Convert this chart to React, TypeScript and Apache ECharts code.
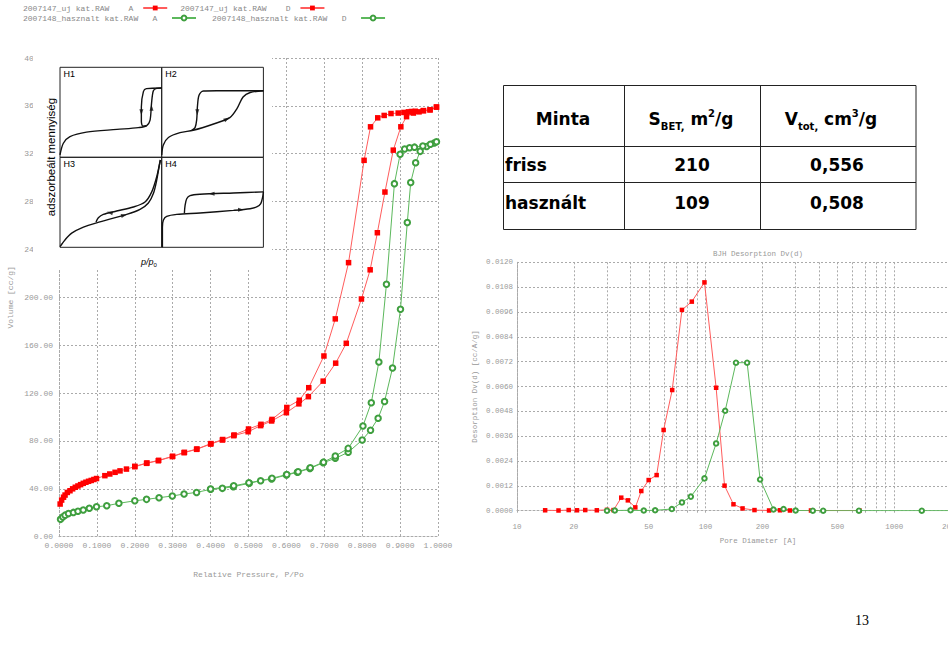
import React, { useEffect, useRef } from 'react';
import * as echarts from 'echarts';

// ---------- Left chart: N2 isotherms (Volume [cc/g] vs P/Po) ----------
const freshAdsP = [0.003, 0.007, 0.012, 0.016, 0.022, 0.029, 0.036, 0.043, 0.05, 0.057, 0.064, 0.071, 0.078, 0.085, 0.092, 0.099, 0.121, 0.134, 0.148, 0.161, 0.178, 0.2, 0.231, 0.262, 0.299, 0.33, 0.363, 0.4, 0.431, 0.461, 0.499, 0.532, 0.561, 0.6, 0.633, 0.658, 0.697, 0.73, 0.758, 0.798, 0.821, 0.84, 0.86, 0.882, 0.902, 0.917, 0.935, 0.95, 0.962, 0.979, 0.996];
const freshAdsV = [27.3, 30.6, 33.0, 34.8, 37.0, 38.4, 40.0, 41.3, 42.4, 43.5, 44.6, 45.5, 46.3, 47.0, 47.8, 48.6, 51.0, 52.4, 53.8, 55.0, 56.5, 58.5, 61.3, 63.5, 66.9, 70.2, 73.0, 77.4, 80.8, 84.4, 87.7, 92.8, 96.7, 103.6, 111.0, 117.0, 130.0, 145.0, 161.6, 198.6, 223.0, 254.0, 288.0, 323.0, 342.5, 351.0, 354.0, 355.0, 356.0, 356.7, 359.0];
const freshDesP = [0.2, 0.232, 0.263, 0.3, 0.331, 0.364, 0.401, 0.432, 0.462, 0.5, 0.533, 0.562, 0.601, 0.634, 0.659, 0.699, 0.729, 0.764, 0.805, 0.822, 0.841, 0.858, 0.876, 0.895, 0.91, 0.922, 0.93, 0.94, 0.961, 0.979, 0.996];
const freshDesV = [58.8, 61.6, 63.8, 67.2, 70.5, 73.3, 77.8, 81.2, 85.0, 90.0, 93.9, 98.0, 108.0, 114.0, 124.5, 151.0, 182.0, 229.0, 314.5, 342.5, 350.0, 352.0, 353.6, 354.0, 354.5, 355.0, 355.3, 355.5, 356.0, 356.7, 359.0];
const usedAdsP = [0.004, 0.01, 0.016, 0.025, 0.038, 0.05, 0.064, 0.08, 0.099, 0.126, 0.158, 0.2, 0.231, 0.264, 0.299, 0.33, 0.363, 0.4, 0.431, 0.46, 0.502, 0.532, 0.561, 0.6, 0.629, 0.662, 0.697, 0.729, 0.763, 0.8, 0.822, 0.842, 0.859, 0.88, 0.901, 0.919, 0.928, 0.941, 0.953, 0.97, 0.99];
const usedAdsV = [14.5, 16.5, 18.0, 19.3, 20.3, 21.3, 22.3, 23.8, 25.0, 25.9, 27.9, 30.0, 31.2, 32.6, 34.0, 35.7, 37.0, 39.6, 40.4, 41.8, 44.6, 46.8, 48.2, 51.5, 53.8, 57.0, 61.8, 65.5, 70.5, 80.8, 89.0, 99.0, 113.0, 141.0, 190.0, 262.5, 296.0, 312.5, 322.0, 326.0, 329.0];
const usedDesP = [0.4, 0.461, 0.501, 0.562, 0.601, 0.631, 0.663, 0.698, 0.729, 0.763, 0.802, 0.824, 0.844, 0.864, 0.885, 0.9, 0.912, 0.925, 0.938, 0.96, 0.98, 0.996];
const usedDesV = [39.8, 42.5, 45.0, 48.8, 52.0, 54.3, 57.6, 62.3, 67.4, 73.8, 92.5, 112.0, 146.0, 211.0, 295.0, 319.5, 324.0, 325.0, 325.5, 326.5, 328.0, 330.0];

const isoNames = [
  '2007147_uj kat.RAW    A',
  '2007147_uj kat.RAW    D',
  '2007148_hasznalt kat.RAW   A',
  '2007148_hasznalt kat.RAW   D',
];

// ---------- Right chart: BJH desorption Dv(d) ----------
const freshPoreD = [14.1, 16.6, 18.8, 20.8, 23.0, 26.5, 30.0, 32.5, 35.7, 38.7, 42.4, 45.6, 49.9, 55.0, 59.9, 66.5, 74.9, 84.5, 98.6, 113.7, 126.0, 140.5, 157.0, 181.6, 217.0, 248.0, 280.0, 362.0, 654.0];
const freshDv = [0.00002, 0.00001, 0.00003, 0.00002, 0.00003, 0.00002, 0.00004, 0.00003, 0.00063, 0.0005, 0.00016, 0.00095, 0.00148, 0.00172, 0.0039, 0.00583, 0.0097, 0.0101, 0.01103, 0.00594, 0.00121, 0.00031, 0.00011, 0.00003, 0.00001, 0.00002, 0.00001, 0.00001, 0.00001];
const usedPoreD = [30.0, 33.0, 40.0, 47.0, 54.0, 66.2, 74.9, 83.5, 98.6, 113.7, 127.0, 144.9, 166.0, 194.5, 229.0, 259.0, 300.0, 370.0, 420.0, 650.0, 1400.0, 2500.0];
const usedDv = [0.0, 0.00001, 0.00002, 0.00001, 0.00002, 0.00008, 0.0004, 0.00068, 0.00156, 0.00325, 0.00483, 0.00715, 0.00715, 0.00151, 0.00006, 0.00008, 0.00001, 0.0, 0.0, 0.0, 0.0, 0.0];
const poreTickValues = [10, 20, 30, 40, 50, 60, 70, 80, 90, 100, 200, 300, 400, 500, 600, 700, 800, 900, 1000, 2000];
const poreLabelValues = [10, 20, 50, 100, 200, 500, 1000, 2000];

// ---------- Inset: hysteresis types H1-H4 (normalised) ----------
const h1Ads = [[0, 0.026], [0.033, 0.156], [0.098, 0.23], [0.26, 0.28], [0.56, 0.31], [0.77, 0.33], [0.85, 0.35], [0.885, 0.41], [0.9, 0.6], [0.918, 0.74], [0.95, 0.765], [1, 0.77]];
const h1Des = [[1, 0.77], [0.85, 0.763], [0.82, 0.73], [0.8, 0.56], [0.8, 0.4], [0.815, 0.345], [0.85, 0.35]];
const h1Arrows = [[0.8, 0.5, 180], [0.9, 0.55, 0]];
const h2Ads = [[0, 0.026], [0.016, 0.137], [0.066, 0.22], [0.18, 0.274], [0.31, 0.3], [0.51, 0.37], [0.67, 0.44], [0.74, 0.54], [0.8, 0.67], [0.87, 0.72], [1, 0.74]];
const h2Des = [[1, 0.74], [0.54, 0.74], [0.41, 0.737], [0.367, 0.69], [0.351, 0.56], [0.344, 0.415], [0.328, 0.33], [0.295, 0.3]];
const h2Arrows = [[0.35, 0.5, 180], [0.64, 0.425, -60]];
const h3Ads = [[0, 0.007], [0.049, 0.082], [0.115, 0.157], [0.23, 0.224], [0.36, 0.272], [0.656, 0.366], [0.787, 0.422], [0.869, 0.493], [0.918, 0.597], [0.951, 0.746], [0.977, 0.914], [0.987, 0.97]];
const h3Des = [[0.987, 0.97], [0.951, 0.784], [0.902, 0.616], [0.836, 0.504], [0.721, 0.448], [0.557, 0.403], [0.426, 0.366], [0.377, 0.328], [0.354, 0.28]];
const h3Arrows = [[0.49, 0.385, 75], [0.63, 0.357, -75]];
const h4Ads = [[0.007, 0], [0.007, 0.224], [0.016, 0.3], [0.049, 0.343], [0.148, 0.366], [0.377, 0.381], [0.705, 0.41], [0.869, 0.429], [0.934, 0.448], [0.974, 0.485], [0.993, 0.56], [1, 0.616]];
const h4Des = [[1, 0.616], [0.705, 0.604], [0.377, 0.59], [0.279, 0.575], [0.246, 0.54], [0.23, 0.466], [0.223, 0.38]];
const h4Arrows = [[0.49, 0.595, 90], [0.78, 0.418, -90]];
const insetLabels = ['H1', 'H2', 'H3', 'H4'];

// ---------- Table ----------
const tableRows = ['friss', 'használt'];
const sbetValues = ['210', '109'];
const vtotValues = ['0,556', '0,508'];

const MONO = 'Liberation Mono';
const GRAY = '#999';
const RED = '#ff0000';
const RED_LINE = '#ff5c5c';
const GREEN = '#3f9f3f';
const GREEN_LINE = '#5cb85c';

const zip = (a: number[], b: number[]) => a.map((v, i) => [v, b[i]]);
const dotted = { color: '#aaa', type: [2, 2] as number[], width: 1 };

function buildOption(): any {
  const insetPanels = [
    { ads: h1Ads, des: h1Des, arrows: h1Arrows },
    { ads: h2Ads, des: h2Des, arrows: h2Arrows },
    { ads: h3Ads, des: h3Des, arrows: h3Arrows },
    { ads: h4Ads, des: h4Des, arrows: h4Arrows },
  ];
  const insetLeft = [60, 161.7, 60, 161.7];
  const insetTop = [67.3, 67.3, 157.3, 157.3];

  const grid: any[] = [
    { left: 59, top: 58, right: 510, bottom: 127.3, outerBoundsMode: 'none' },
  ];
  const xAxis: any[] = [
    {
      type: 'value', gridIndex: 0, min: 0, max: 1, interval: 0.1,
      axisLine: { lineStyle: dotted }, axisTick: { show: false },
      splitLine: { show: true, lineStyle: dotted },
      axisLabel: { formatter: (v: number) => v.toFixed(4), fontFamily: MONO, fontSize: 8, color: GRAY, margin: 5 },
      name: 'Relative Pressure, P/Po', nameLocation: 'middle', nameGap: 34,
      nameTextStyle: { fontFamily: MONO, fontSize: 8, color: GRAY },
    },
  ];
  const yAxis: any[] = [
    {
      type: 'value', gridIndex: 0, min: 0, max: 400, interval: 40,
      axisLine: { show: true, lineStyle: dotted }, axisTick: { show: false },
      splitLine: { show: true, lineStyle: dotted },
      axisLabel: { formatter: (v: number) => v.toFixed(2), fontFamily: MONO, fontSize: 8, color: GRAY, margin: 6 },
      name: 'Volume [cc/g]', nameLocation: 'middle', nameGap: 45,
      nameTextStyle: { fontFamily: MONO, fontSize: 8, color: GRAY },
    },
  ];
  const series: any[] = [
    {
      name: isoNames[0], type: 'line', xAxisIndex: 0, yAxisIndex: 0, data: zip(freshAdsP, freshAdsV),
      symbol: 'rect', symbolSize: 5.5, itemStyle: { color: RED }, lineStyle: { color: RED_LINE, width: 1 },
    },
    {
      name: isoNames[1], type: 'line', xAxisIndex: 0, yAxisIndex: 0, data: zip(freshDesP, freshDesV),
      symbol: 'rect', symbolSize: 5.5, itemStyle: { color: RED }, lineStyle: { color: RED_LINE, width: 1 },
    },
    {
      name: isoNames[2], type: 'line', xAxisIndex: 0, yAxisIndex: 0, data: zip(usedAdsP, usedAdsV),
      symbol: 'emptyCircle', symbolSize: 5.5, itemStyle: { color: GREEN, borderWidth: 1 }, lineStyle: { color: GREEN_LINE, width: 1 },
    },
    {
      name: isoNames[3], type: 'line', xAxisIndex: 0, yAxisIndex: 0, data: zip(usedDesP, usedDesV),
      symbol: 'emptyCircle', symbolSize: 5.5, itemStyle: { color: GREEN, borderWidth: 1 }, lineStyle: { color: GREEN_LINE, width: 1 },
    },
  ];

  insetPanels.forEach((p, i) => {
    const gi = i + 1;
    grid.push({ left: insetLeft[i], top: insetTop[i], width: 101.7, height: 90, show: true, borderColor: '#222', borderWidth: 1, backgroundColor: 'transparent', z: 20, outerBoundsMode: 'none' });
    xAxis.push({ type: 'value', gridIndex: gi, min: 0, max: 1, show: false });
    yAxis.push({ type: 'value', gridIndex: gi, min: 0, max: 1, show: false });
    series.push({ type: 'line', xAxisIndex: gi, yAxisIndex: gi, data: p.ads, smooth: 0.3, symbol: 'none', lineStyle: { color: '#111', width: 1.4 }, z: 20, silent: true });
    series.push({ type: 'line', xAxisIndex: gi, yAxisIndex: gi, data: p.des, smooth: 0.3, symbol: 'none', lineStyle: { color: '#111', width: 1.4 }, z: 20, silent: true });
    series.push({
      type: 'scatter', xAxisIndex: gi, yAxisIndex: gi, symbol: 'triangle', symbolSize: [4, 6],
      data: p.arrows.map((a) => ({ value: [a[0], a[1]], symbolRotate: a[2] })),
      itemStyle: { color: '#111' }, z: 21, silent: true,
    });
  });

  // right chart (its right edge runs past the page edge, as in the reference)
  grid.push({ left: 517, top: 262.3, width: 434, height: 248.4, outerBoundsMode: 'none', containLabel: false });
  xAxis.push({
    type: 'value', gridIndex: 5, min: 1, max: Math.log10(2000),
    axisLine: { lineStyle: dotted },
    axisTick: { show: true, customValues: poreTickValues.map((v) => Math.log10(v)), length: 2, lineStyle: { color: '#aaa' } },
    splitLine: { show: true, lineStyle: dotted },
    axisLabel: {
      customValues: poreLabelValues.map((v) => Math.log10(v)),
      formatter: (v: number) => String(Math.round(Math.pow(10, v))),
      fontFamily: MONO, fontSize: 7.5, color: GRAY, margin: 12,
    },
    name: 'Pore Diameter [A]', nameLocation: 'middle', nameGap: 26,
    nameTextStyle: { fontFamily: MONO, fontSize: 7.5, color: GRAY, padding: [0, 0, 0, 48] },
  });
  yAxis.push({
    type: 'value', gridIndex: 5, min: 0, max: 0.012, interval: 0.0012,
    axisLine: { show: true, lineStyle: dotted }, axisTick: { show: false },
    splitLine: { show: true, lineStyle: dotted },
    axisLabel: { formatter: (v: number) => v.toFixed(4), fontFamily: MONO, fontSize: 7.5, color: GRAY, margin: 4 },
    name: 'Desorption Dv(d) [cc/A/g]', nameLocation: 'middle', nameGap: 38,
    nameTextStyle: { fontFamily: MONO, fontSize: 7.5, color: GRAY },
  });
  series.push({
    type: 'line', xAxisIndex: 5, yAxisIndex: 5, data: freshPoreD.map((d, i) => [Math.log10(d), freshDv[i]]),
    symbol: 'rect', symbolSize: 4.5, itemStyle: { color: RED }, lineStyle: { color: RED_LINE, width: 1 },
  });
  series.push({
    type: 'line', xAxisIndex: 5, yAxisIndex: 5, data: usedPoreD.map((d, i) => [Math.log10(d), usedDv[i]]),
    symbol: 'emptyCircle', symbolSize: 4.5, itemStyle: { color: GREEN, borderWidth: 1 }, lineStyle: { color: GREEN_LINE, width: 1 },
  });

  const nb = (s: string) => s.replace(/ /g, '\u00a0');
  const legendBase = {
    orient: 'horizontal', align: 'right', itemWidth: 24, itemHeight: 6, padding: 0, selectedMode: false,
    textStyle: { fontFamily: MONO, fontSize: 8, color: '#888' },
  };

  const txt = (text: string, x: number, y: number, extra: any = {}) => ({
    type: 'text', z: 12, x, y,
    style: {
      text, fill: '#000', align: 'center', verticalAlign: 'middle', textAlign: 'center', textVerticalAlign: 'middle',
      fontFamily: 'DejaVu Sans', fontWeight: 'bold', fontSize: 17, ...extra,
    },
  });
  const hline = (x1: number, x2: number, y: number) => ({ type: 'line', z: 12, shape: { x1, y1: y, x2, y2: y }, style: { stroke: '#222', lineWidth: 1 } });
  const vline = (x: number, y1: number, y2: number) => ({ type: 'line', z: 12, shape: { x1: x, y1, x2: x, y2 }, style: { stroke: '#222', lineWidth: 1 } });

  const T = { l: 503.5, c1: 624.5, c2: 760.5, r: 916, t: 85.5, r1: 146.5, r2: 182.5, b: 229.5 };
  const rowY = [165, 203];
  const richHead = {
    a: { fontFamily: 'DejaVu Sans', fontWeight: 'bold', fontSize: 17, lineHeight: 28 },
    b: { fontFamily: 'DejaVu Sans', fontWeight: 'bold', fontSize: 10, lineHeight: 10, verticalAlign: 'bottom', padding: [0, 0, 2, 0] },
    c: { fontFamily: 'DejaVu Sans', fontWeight: 'bold', fontSize: 10, lineHeight: 10, verticalAlign: 'top', padding: [3, 0, 0, 0] },
  };

  const graphic: any[] = [
    { type: 'rect', z: 10, shape: { x: 33, y: 44, width: 239, height: 226 }, style: { fill: '#fff' } },
    {
      type: 'text', z: 12, x: 51, y: 157, rotation: Math.PI / 2,
      style: { text: 'adszorbeált mennyiség', fill: '#000', fontFamily: 'Liberation Sans', fontSize: 11.5, align: 'center', verticalAlign: 'middle', textAlign: 'center', textVerticalAlign: 'middle' },
    },
    {
      type: 'text', z: 12, x: 149, y: 262,
      style: {
        text: '{i|p/p}{s|0}', fill: '#000', align: 'center', verticalAlign: 'middle', textAlign: 'center', textVerticalAlign: 'middle',
        rich: {
          i: { fontFamily: 'Liberation Sans', fontStyle: 'italic', fontSize: 9, lineHeight: 12 },
          s: { fontFamily: 'Liberation Sans', fontSize: 6, lineHeight: 8, verticalAlign: 'bottom' },
        },
      },
    },
    ...insetLabels.map((l, i) => ({
      type: 'text', z: 22, x: insetLeft[i] + 3.5, y: insetTop[i] + 7,
      style: { text: l, fill: '#000', fontFamily: 'Liberation Sans', fontSize: 9, align: 'left', verticalAlign: 'middle', textAlign: 'left', textVerticalAlign: 'middle' },
    })),
    // table
    { type: 'rect', z: 12, shape: { x: T.l, y: T.t, width: T.r - T.l, height: T.b - T.t }, style: { fill: 'none', stroke: '#222', lineWidth: 1 } },
    vline(T.c1, T.t, T.b), vline(T.c2, T.t, T.b), hline(T.l, T.r, T.r1), hline(T.l, T.r, T.r2),
    txt('Minta', 563, 119),
    {
      type: 'text', z: 12, x: 691, y: 119,
      style: { text: '{a|S}{b|BET,}{a| m}{c|2}{a|/g}', fill: '#000', align: 'center', verticalAlign: 'middle', textAlign: 'center', textVerticalAlign: 'middle', rich: richHead },
    },
    {
      type: 'text', z: 12, x: 831, y: 119,
      style: { text: '{a|V}{b|tot,}{a| cm}{c|3}{a|/g}', fill: '#000', align: 'center', verticalAlign: 'middle', textAlign: 'center', textVerticalAlign: 'middle', rich: richHead },
    },
    ...tableRows.map((r, i) => txt(r, 505, rowY[i], { align: 'left', textAlign: 'left' })),
    ...sbetValues.map((v, i) => txt(v, 692, rowY[i])),
    ...vtotValues.map((v, i) => txt(v, 837, rowY[i])),
    // right chart title
    {
      type: 'text', z: 12, x: 758, y: 254,
      style: { text: 'BJH Desorption Dv(d)', fill: GRAY, fontFamily: MONO, fontSize: 7.5, align: 'center', verticalAlign: 'middle', textAlign: 'center', textVerticalAlign: 'middle' },
    },
    // page number
    {
      type: 'text', z: 12, x: 862, y: 620,
      style: { text: '13', fill: '#000', fontFamily: 'Liberation Serif', fontSize: 14, align: 'center', verticalAlign: 'middle', textAlign: 'center', textVerticalAlign: 'middle' },
    },
  ];

  return {
    animation: false,
    backgroundColor: '#fff',
    legend: [
      { ...legendBase, data: [isoNames[0], isoNames[1]], left: 23, top: 4, itemGap: 12, formatter: (n: string) => nb(n + ' ') },
      { ...legendBase, data: [isoNames[2], isoNames[3]], left: 23, top: 14, itemGap: 15, formatter: (n: string) => nb(n + '  ') },
    ],
    grid,
    xAxis,
    yAxis,
    series,
    graphic: { elements: graphic },
  };
}

export default function App() {
  const ref = useRef<HTMLDivElement>(null);
  useEffect(() => {
    if (!ref.current) return;
    const chart = echarts.init(ref.current, undefined, { renderer: 'svg' });
    chart.setOption(buildOption());
    return () => chart.dispose();
  }, []);
  return (
    <div style={{ position: 'fixed', left: 0, top: 0, width: 948, height: 664, background: '#fff', overflow: 'hidden' }}>
      <div ref={ref} style={{ width: 948, height: 664 }} />
    </div>
  );
}
